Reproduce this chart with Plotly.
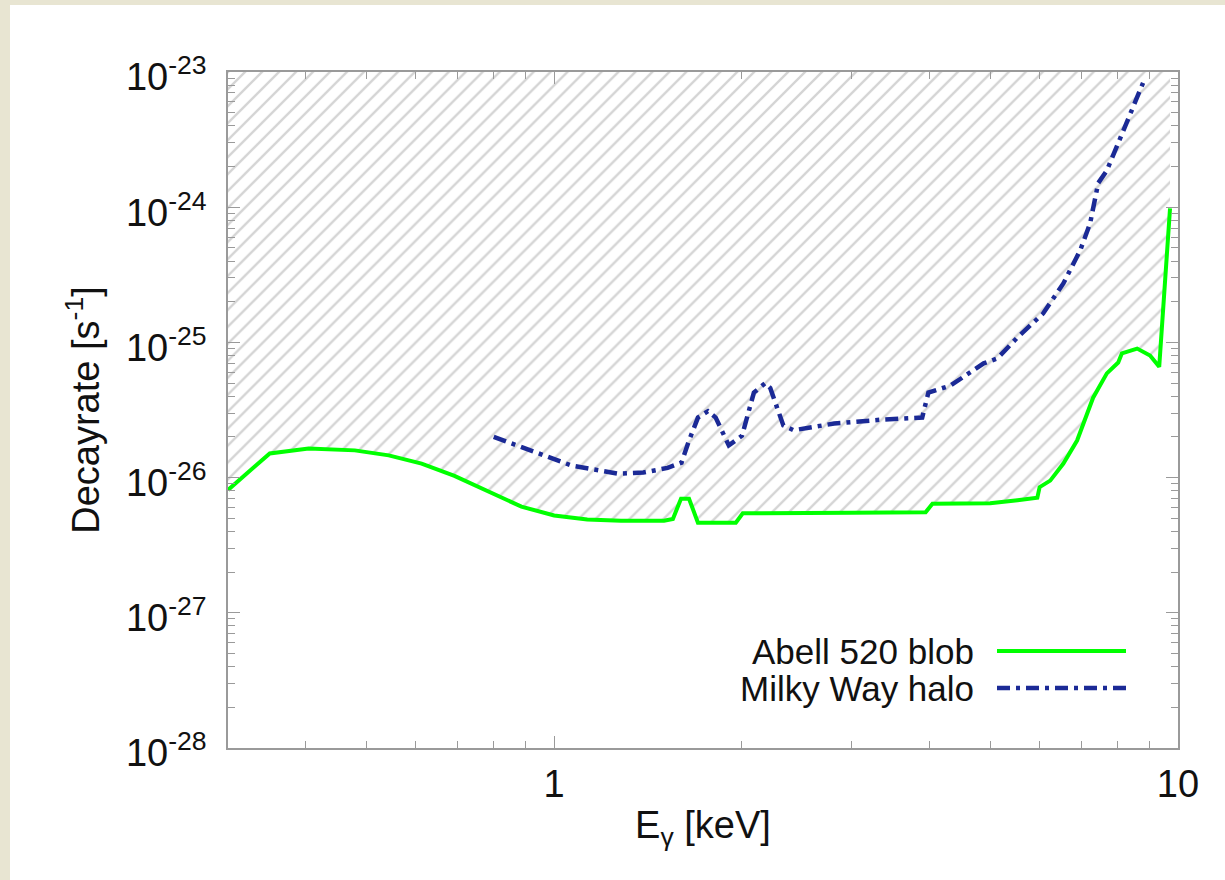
import math
import plotly.graph_objects as go

# ---- data ----
abell_E = [0.30, 0.35, 0.404, 0.479, 0.543, 0.613, 0.692, 0.784, 0.886, 1.0, 1.13, 1.28,
           1.50, 1.55, 1.597, 1.645, 1.70, 1.955, 2.006, 3.0, 3.94, 4.04, 5.0, 5.53,
           5.95, 6.0, 6.24, 6.55, 6.89, 7.31, 7.69, 8.02, 8.13, 8.6, 9.02, 9.33, 9.71]
abell_R = [8.1e-27, 1.51e-26, 1.64e-26, 1.59e-26, 1.46e-26, 1.27e-26, 1.03e-26, 7.9e-27,
           6.1e-27, 5.25e-27, 4.9e-27, 4.8e-27, 4.8e-27, 4.95e-27, 6.98e-27, 6.98e-27,
           4.64e-27, 4.64e-27, 5.45e-27, 5.5e-27, 5.55e-27, 6.4e-27, 6.45e-27, 6.8e-27,
           7.1e-27, 8.5e-27, 9.5e-27, 1.27e-26, 1.88e-26, 3.9e-26, 5.9e-26, 7.1e-26,
           8.3e-26, 9.0e-26, 8.0e-26, 6.6e-26, 9.8e-25]

mw_E = [0.80, 0.943, 1.065, 1.265, 1.39, 1.52, 1.60, 1.645, 1.70, 1.764, 1.815, 1.905,
        2.0, 2.09, 2.18, 2.22, 2.33, 2.42, 2.81, 3.37, 3.89, 3.98, 4.32, 4.88, 5.13,
        5.53, 6.08, 6.55, 6.97, 7.23, 7.45, 7.69, 7.98, 8.28, 8.6, 8.79]
mw_R = [2.0e-26, 1.5e-26, 1.23e-26, 1.07e-26, 1.09e-26, 1.18e-26, 1.29e-26, 1.88e-26,
        2.78e-26, 3.1e-26, 2.78e-26, 1.73e-26, 2.04e-26, 4.25e-26, 5.0e-26, 4.6e-26,
        2.43e-26, 2.24e-26, 2.51e-26, 2.69e-26, 2.78e-26, 4.26e-26, 4.8e-26, 7.0e-26,
        7.6e-26, 1.09e-25, 1.64e-25, 2.73e-25, 4.8e-25, 7.6e-25, 1.51e-24, 1.87e-24,
        2.79e-24, 4.2e-24, 6.5e-24, 8.3e-24]

series_names = ["Abell 520 blob", "Milky Way halo"]
x_ticks = [1, 10]
x_ticklabels = ["1", "10"]
y_exps = [-28, -27, -26, -25, -24, -23]
y_ticks = [10.0 ** e for e in y_exps]
y_ticklabels = ["10<sup>%d</sup>" % e for e in y_exps]
x_range = [0.3, 10]
y_top = 1e-23

# ---- style ----
FONT = "Liberation Sans"
GREEN = "#00ff00"
BLUE = "#1b2a96"
AX = "#9a9a9a"
BEIGE = "#e8e5d2"

x_minor = [m * 10.0 ** d for d in (-1, 0) for m in range(2, 10) if x_range[0] < m * 10.0 ** d < x_range[1]]
y_minor = [m * 10.0 ** e for e in y_exps[:-1] for m in range(2, 10)]

fig = go.Figure()

# hatched excluded region above the Abell curve
fig.add_trace(go.Scatter(
    x=abell_E + [abell_E[-1], abell_E[0]],
    y=abell_R + [y_top, y_top],
    mode="lines", line=dict(width=0), fill="toself",
    fillcolor="rgba(0,0,0,0)",
    fillpattern=dict(shape="/", fgcolor="#aaaaaa", bgcolor="white", size=12, solidity=0.2),
    showlegend=False, hoverinfo="skip"))

fig.add_trace(go.Scatter(x=abell_E, y=abell_R, mode="lines", name=series_names[0],
                         line=dict(color=GREEN, width=4), showlegend=False))
fig.add_trace(go.Scatter(x=mw_E, y=mw_R, mode="lines", name=series_names[1],
                         line=dict(color=BLUE, width=4.5, dash="13px,6px,4px,6px"),
                         showlegend=False))

axis_common = dict(
    showgrid=False, zeroline=False, ticks="inside", ticklen=12, tickwidth=1.3,
    tickcolor=AX, linecolor=AX, linewidth=1.5, mirror="ticks", showline=True,
    tickfont=dict(family=FONT, size=38, color="#111"),
)

fig.update_xaxes(type="log", range=[math.log10(x_range[0]), math.log10(x_range[1])],
                 tickmode="array", tickvals=x_ticks, ticktext=x_ticklabels,
                 ticklabelstandoff=2,
                 minor=dict(tickmode="array", tickvals=x_minor, ticks="inside", ticklen=7,
                            tickcolor=AX, tickwidth=1.2),
                 title=dict(text="E<sub>γ</sub> [keV]", standoff=7,
                            font=dict(family=FONT, size=38, color="#111")),
                 **axis_common)
fig.update_yaxes(type="log", range=[-28, -23],
                 tickmode="array", tickvals=y_ticks, ticktext=y_ticklabels,
                 ticklabelstandoff=12, ticklabelshift=5,
                 minor=dict(tickmode="array", tickvals=y_minor, ticks="inside", ticklen=7,
                            tickcolor=AX, tickwidth=1.2),
                 title=dict(text="Decayrate [s<sup>-1</sup>]", standoff=15,
                            font=dict(family=FONT, size=38, color="#111")),
                 **axis_common)

# legend (text left, sample line right, as in the reference)
L, R, T, B = 228, 47, 72, 132
W, H = 1225 - L - R, 880 - T - B
px = lambda x: (x - L) / W
py = lambda y: (T + H - y) / H

legend_rows = [(series_names[0], 651, dict(color=GREEN, width=4)),
               (series_names[1], 688, dict(color=BLUE, width=4.5, dash="13px,6px,4px,6px"))]
shapes = [dict(type="rect", xref="paper", yref="paper", x0=px(10), x1=px(1225),
               y0=py(880), y1=py(5), fillcolor="white", line=dict(width=0), layer="below")]
annotations = []
for name, yy, ln in legend_rows:
    annotations.append(dict(text=name, xref="paper", yref="paper", x=px(976), y=py(yy),
                            xanchor="right", yanchor="middle", showarrow=False,
                            font=dict(family=FONT, size=35, color="#111")))
    shapes.append(dict(type="line", xref="paper", yref="paper", x0=px(997), x1=px(1126),
                       y0=py(yy), y1=py(yy), line=ln))

fig.update_layout(
    width=1225, height=880,
    margin=dict(l=L, r=R, t=T, b=B, autoexpand=False),
    paper_bgcolor=BEIGE, plot_bgcolor="white",
    shapes=shapes, annotations=annotations,
    font=dict(family=FONT, color="#111"),
)

fig.write_html("out.html")
